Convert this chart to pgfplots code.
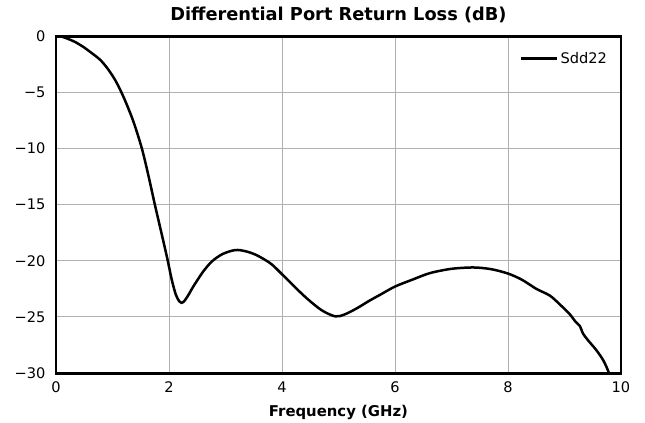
\documentclass[border=0pt]{standalone}
\usepackage{pgfplots}
\pgfplotsset{compat=1.18}
\usepackage{fontspec}
\setmainfont{DejaVu Sans}
\definecolor{gridgray}{HTML}{B0B0B0}
\begin{document}
\begin{tikzpicture}
\begin{axis}[
    width=406.8pt, height=242.6pt,
    scale only axis,
    xmin=0, xmax=10, ymin=-30, ymax=0,
    xtick={0,2,...,10}, ytick={-30,-25,...,0},
    yticklabels={−30,−25,−20,−15,−10,−5,0},
    grid=major,
    major grid style={gridgray, line width=0.6pt},
    axis line style={line width=2.1pt},
    major tick length=0pt,
    tick label style={font=\fontsize{10.5}{12}\selectfont},
    xticklabel style={yshift=-3pt},
    yticklabel style={xshift=-4pt},
    /pgf/number format/assume math mode=true,
    title={\textbf{Differential Port Return Loss (dB)}},
    title style={font=\fontsize{12.8}{14}\selectfont, yshift=0pt},
    xlabel={\textbf{Frequency (GHz)}},
    xlabel style={font=\fontsize{10.7}{12}\selectfont, yshift=-2pt},
    legend style={draw=none, fill=none, at={(0.988,0.97)}, anchor=north east,
        font=\fontsize{10.5}{12}\selectfont},
    legend image code/.code={\draw[#1] (-6pt,0pt) -- (20pt,0pt);},
    legend cell align=left,
    clip=true,
]
\addplot[black, line width=1.8pt, smooth] coordinates {
(0,0) (0.1,-0.05) (0.19,-0.2) (0.33,-0.5) (0.48,-0.95) (0.63,-1.5) (0.78,-2.1)
(0.9,-2.8) (1.01,-3.6) (1.1,-4.4) (1.22,-5.7) (1.37,-7.6) (1.52,-10.0)
(1.64,-12.5) (1.75,-15.0) (1.87,-17.6) (1.97,-19.8) (2.05,-21.7) (2.12,-23.0)
(2.18,-23.6) (2.22,-23.75) (2.27,-23.6) (2.35,-23.0) (2.43,-22.3) (2.6,-21.0)
(2.76,-20.06) (2.95,-19.4) (3.17,-19.05) (3.35,-19.15) (3.55,-19.5) (3.8,-20.25)
(4.0,-21.2) (4.22,-22.3) (4.44,-23.35) (4.7,-24.4) (4.94,-24.95) (5.1,-24.8)
(5.32,-24.25) (5.55,-23.55) (5.73,-23.05) (6.0,-22.3) (6.3,-21.7) (6.62,-21.1)
(7.0,-20.72) (7.39,-20.6) (7.7,-20.75) (8.0,-21.14) (8.25,-21.7) (8.5,-22.5)
(8.74,-23.1) (8.92,-23.9) (9.1,-24.8) (9.19,-25.4) (9.27,-25.8) (9.33,-26.5)
(9.42,-27.1) (9.57,-28.0) (9.69,-28.9) (9.78,-29.9) (9.85,-31.0)
};
\addlegendentry{Sdd22}
\end{axis}
\pgfresetboundingbox
\path[use as bounding box] ([shift={(-40.3pt,-35.3pt)}]current axis.south west)
    rectangle ([shift={(17.3pt,26pt)}]current axis.north east);
\end{tikzpicture}
\end{document}
